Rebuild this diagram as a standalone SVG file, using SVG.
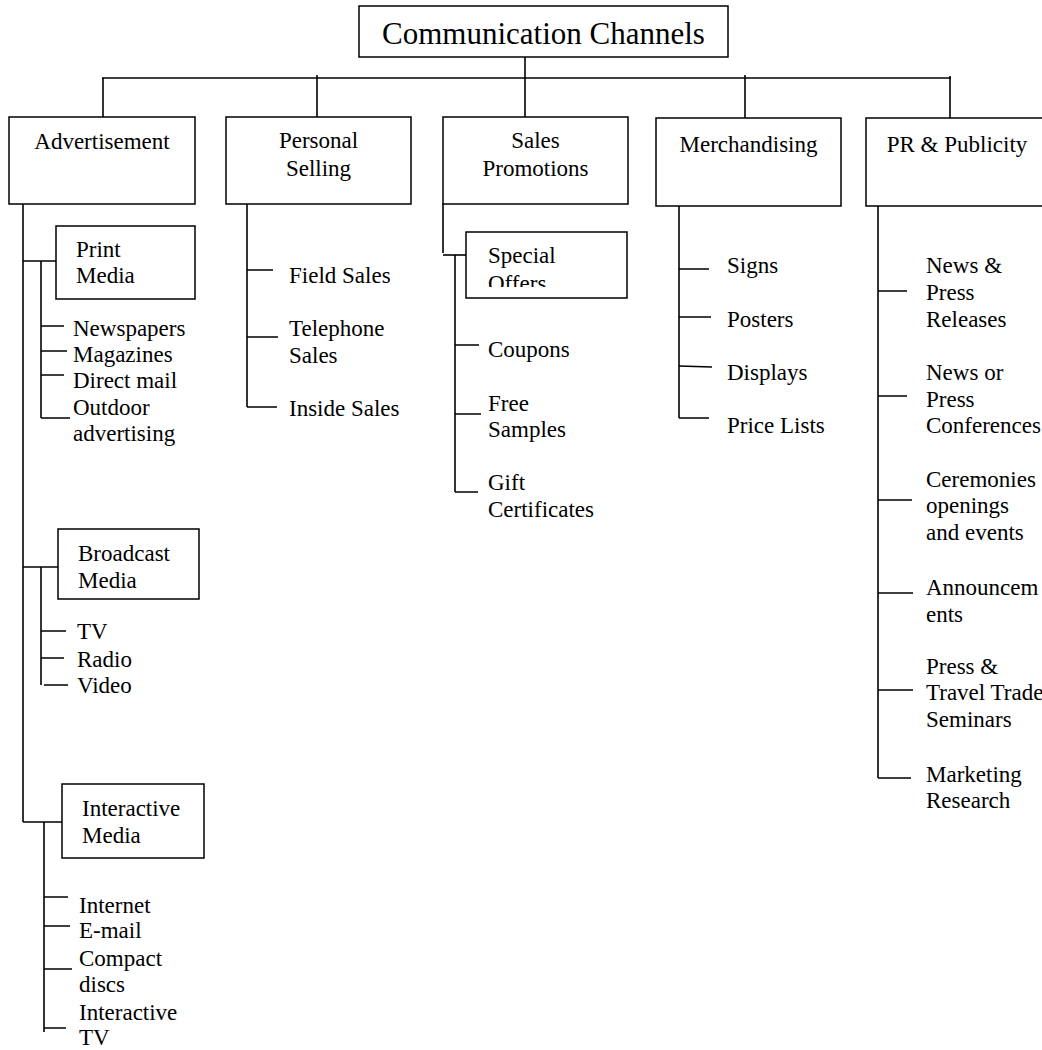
<svg xmlns="http://www.w3.org/2000/svg" width="1042" height="1050" viewBox="0 0 1042 1050">
<style>
  .box { fill: #fff; stroke: #000; stroke-width: 1.5; }
  .ln { fill: none; stroke: #000; stroke-width: 1.6; }
  text { font-family: "Liberation Serif", "Times New Roman", serif; font-size: 23px; fill: #000; }
  .title { font-size: 31px; }
  .c { text-anchor: middle; }
</style>
<defs>
  <clipPath id="clipOffers"><rect x="466" y="232" width="161" height="55"/></clipPath>
</defs>
<rect width="1042" height="1050" fill="#fff"/>

<g id="connectors">
  <path class="ln" d="M525 57 V117"/>
  <path class="ln" d="M102 78 H951"/>
  <path class="ln" d="M103 78 V117"/>
  <path class="ln" d="M317 75 V117"/>
  <path class="ln" d="M745 75 V118"/>
  <path class="ln" d="M950 76 V118"/>
  <!-- Advertisement column -->
  <path class="ln" d="M23 204 V822"/>
  <path class="ln" d="M23 261 H56"/>
  <path class="ln" d="M41 261 V418"/>
  <path class="ln" d="M41 326 H64 M41 351 H67 M41 375 H64 M41 418 H70"/>
  <path class="ln" d="M23 567 H58"/>
  <path class="ln" d="M41 567 V685"/>
  <path class="ln" d="M41 631 H66 M41 658 H64 M44 685 H68"/>
  <path class="ln" d="M23 822 H62"/>
  <path class="ln" d="M44 822 V1032"/>
  <path class="ln" d="M44 897 H68 M44 926 H70 M44 969 H72 M44 1028 H66"/>
  <!-- Personal Selling column -->
  <path class="ln" d="M247 204 V407"/>
  <path class="ln" d="M247 270 H273 M247 337 H278 M247 407 H277"/>
  <!-- Sales Promotions column -->
  <path class="ln" d="M443 204 V253"/>
  <path class="ln" d="M443 255 H466"/>
  <path class="ln" d="M455 255 V492"/>
  <path class="ln" d="M455 345 H479 M455 414 H481 M455 492 H478"/>
  <!-- Merchandising column -->
  <path class="ln" d="M679 206 V418"/>
  <path class="ln" d="M679 269 H709 M679 317 H711 M679 366 L712 367 M679 418 H709"/>
  <!-- PR column -->
  <path class="ln" d="M878 206 V778"/>
  <path class="ln" d="M878 291 H907 M878 396 H907 M878 500 H912 M878 593 H913 M878 690 H913 M878 778 H911"/>
</g>

<g id="root">
  <rect class="box" x="359" y="6" width="369" height="51"/>
  <text class="title c" x="543.5" y="44">Communication Channels</text>
</g>

<g id="advertisement">
  <rect class="box" x="9" y="117" width="186" height="87"/>
  <text class="c" x="102" y="149">Advertisement</text>
</g>
<g id="personal-selling">
  <rect class="box" x="226" y="117" width="185" height="87"/>
  <text class="c" x="318.5" y="148">Personal</text>
  <text class="c" x="318.5" y="176">Selling</text>
</g>
<g id="sales-promotions">
  <rect class="box" x="443" y="117" width="185" height="87"/>
  <text class="c" x="535.5" y="148">Sales</text>
  <text class="c" x="535.5" y="176">Promotions</text>
</g>
<g id="merchandising">
  <rect class="box" x="656" y="118" width="185" height="88"/>
  <text class="c" x="748.5" y="152">Merchandising</text>
</g>
<g id="pr-publicity">
  <rect class="box" x="866" y="118" width="186" height="88"/>
  <text class="c" x="957" y="152">PR &amp; Publicity</text>
</g>

<g id="print-media">
  <rect class="box" x="56" y="226" width="139" height="73"/>
  <text x="76" y="257">Print</text>
  <text x="76" y="283">Media</text>
</g>
<g id="print-items">
  <text x="73" y="336">Newspapers</text>
  <text x="73" y="362">Magazines</text>
  <text x="73" y="388">Direct mail</text>
  <text x="73" y="415">Outdoor</text>
  <text x="73" y="441">advertising</text>
</g>
<g id="broadcast-media">
  <rect class="box" x="58" y="529" width="141" height="70"/>
  <text x="78" y="561">Broadcast</text>
  <text x="78" y="588">Media</text>
</g>
<g id="broadcast-items">
  <text x="77" y="639">TV</text>
  <text x="77" y="667">Radio</text>
  <text x="77" y="693">Video</text>
</g>
<g id="interactive-media">
  <rect class="box" x="62" y="784" width="142" height="74"/>
  <text x="82" y="816">Interactive</text>
  <text x="82" y="843">Media</text>
</g>
<g id="interactive-items">
  <text x="79" y="913">Internet</text>
  <text x="79" y="938">E-mail</text>
  <text x="79" y="966">Compact</text>
  <text x="79" y="992">discs</text>
  <text x="79" y="1020">Interactive</text>
  <text x="79" y="1045">TV</text>
</g>

<g id="personal-items">
  <text x="289" y="283">Field Sales</text>
  <text x="289" y="336">Telephone</text>
  <text x="289" y="363">Sales</text>
  <text x="289" y="416">Inside Sales</text>
</g>

<g id="special-offers">
  <rect class="box" x="466" y="232" width="161" height="66"/>
  <text x="488" y="263">Special</text>
  <text x="488" y="291" clip-path="url(#clipOffers)">Offers</text>
</g>
<g id="sales-items">
  <text x="488" y="357">Coupons</text>
  <text x="488" y="411">Free</text>
  <text x="488" y="437">Samples</text>
  <text x="488" y="490">Gift</text>
  <text x="488" y="517">Certificates</text>
</g>

<g id="merch-items">
  <text x="727" y="273">Signs</text>
  <text x="727" y="327">Posters</text>
  <text x="727" y="380">Displays</text>
  <text x="727" y="433">Price Lists</text>
</g>

<g id="pr-items">
  <text x="926" y="273">News &amp;</text>
  <text x="926" y="300">Press</text>
  <text x="926" y="327">Releases</text>
  <text x="926" y="380">News or</text>
  <text x="926" y="407">Press</text>
  <text x="926" y="433">Conferences</text>
  <text x="926" y="487">Ceremonies</text>
  <text x="926" y="513">openings</text>
  <text x="926" y="540">and events</text>
  <text x="926" y="595">Announcem</text>
  <text x="926" y="622">ents</text>
  <text x="926" y="674">Press &amp;</text>
  <text x="926" y="700">Travel Trade</text>
  <text x="926" y="727">Seminars</text>
  <text x="926" y="782">Marketing</text>
  <text x="926" y="808">Research</text>
</g>
</svg>
